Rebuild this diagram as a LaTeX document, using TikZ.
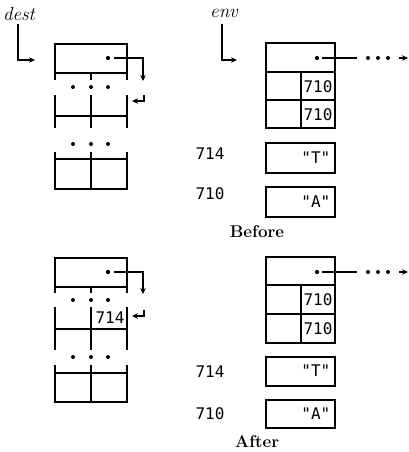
\documentclass[tikz,border=0pt]{standalone}
\usepackage{fontspec}
\newfontfamily\mono{DejaVu Sans Mono}
\usetikzlibrary{arrows.meta}
\begin{document}
\begin{tikzpicture}[x=1pt,y=-1pt,line width=1.3pt,
  arr/.style={-{Stealth[length=6pt,width=5.5pt]}},
  num/.style={font=\mono\fontsize{16}{18}\selectfont,inner sep=0pt},
  dotn/.style={circle,fill,inner sep=0pt,minimum size=4.2pt},
  sdot/.style={circle,fill,inner sep=0pt,minimum size=4pt},
  lab/.style={font=\itshape\fontsize{19}{21}\selectfont,inner sep=0pt},
  captext/.style={font=\bfseries\fontsize{17}{19}\selectfont,inner sep=0pt}]
\useasboundingbox (0,0) rectangle (409,452);

% ---------- dest, before ----------
\node[lab] (dest) at (19,14) {dest};
\coordinate (d1in) at (35,60);
\draw[arr] (18,24) |- (d1in);
\draw (55,44) rectangle (127,73);
\draw (55,73)--(55,80) (91,73)--(91,80) (127,73)--(127,80);
\foreach \x/\n in {73/a,91/b,108/c} \node[sdot] (d1u\n) at (\x,87) {};
\draw (55,95)--(55,128) (91,95)--(91,128) (127,95)--(127,128) (55,116)--(127,116);
\foreach \x/\n in {73/a,91/b,108/c} \node[sdot] (d1v\n) at (\x,144) {};
\draw (55,152)--(55,189)--(127,189)--(127,152) (91,152)--(91,189) (55,159)--(127,159);
\node[dotn] (p1) at (108,58) {};
\coordinate (p1e) at (143,81);
\draw[arr] (p1.east) ++(3,0) -| (p1e);
\coordinate (r1s) at (144,95);
\coordinate (r1e) at (132,101);
\draw[arr] (r1s) |- (r1e);

% ---------- env, before ----------
\node[lab] (env) at (224,13) {env};
\coordinate (e1in) at (237,60);
\draw[arr] (222,24) |- (e1in);
\draw (266,43) rectangle (335,128);
\draw (266,72)--(335,72) (266,100)--(335,100) (301,72)--(301,128);
\node[num] (e1a) at (318,87) {710};
\node[num] (e1b) at (318,115) {710};
\node[dotn] (q1) at (317,58) {};
\coordinate (q1e) at (357,58);
\draw (q1.east) ++(2,0) -- (q1e);
\foreach \x/\n in {368/a,378/b,388/c} \node[sdot] (q1d\n) at (\x,58) {};
\coordinate (q1s) at (399,58);
\coordinate (q1t) at (408,58);
\draw[-{Stealth[length=6pt,width=5.5pt]}] (q1s) -- (q1t);
\node[num] (l714a) at (210,154) {714};
\draw (266,143) rectangle (335,173);
\node[num,anchor=east] (ta) at (331,158) {"T"};
\node[num] (l710a) at (210,194) {710};
\draw (266,187) rectangle (335,217);
\node[num,anchor=east] (aa) at (331,202) {"A"};
\node[captext] (before) at (257,232) {Before};

% ---------- dest, after ----------
\draw (55,258) rectangle (127,287);
\draw (55,287)--(55,293) (91,287)--(91,293) (127,287)--(127,293);
\foreach \x/\n in {73/a,91/b,108/c} \node[sdot] (d2u\n) at (\x,300) {};
\draw (55,307)--(55,350) (91,307)--(91,350) (127,307)--(127,350) (55,329)--(127,329);
\node[num] (n714) at (110,318) {714};
\foreach \x/\n in {73/a,91/b,108/c} \node[sdot] (d2v\n) at (\x,357) {};
\draw (55,365)--(55,402)--(127,402)--(127,365) (91,365)--(91,402) (55,373)--(127,373);
\node[dotn] (p2) at (108,272) {};
\coordinate (p2e) at (143,294);
\draw[arr] (p2.east) ++(3,0) -| (p2e);
\coordinate (r2s) at (144,310);
\coordinate (r2e) at (132,316);
\draw[arr] (r2s) |- (r2e);

% ---------- env, after ----------
\draw (266,257) rectangle (335,343);
\draw (266,285)--(335,285) (266,314)--(335,314) (301,285)--(301,343);
\node[num] (e2a) at (318,300) {710};
\node[num] (e2b) at (318,329) {710};
\node[dotn] (q2) at (317,272) {};
\coordinate (q2e) at (357,272);
\draw (q2.east) ++(2,0) -- (q2e);
\foreach \x/\n in {368/a,378/b,388/c} \node[sdot] (q2d\n) at (\x,272) {};
\coordinate (q2s) at (399,272);
\coordinate (q2t) at (408,272);
\draw[-{Stealth[length=6pt,width=5.5pt]}] (q2s) -- (q2t);
\node[num] (l714b) at (210,372) {714};
\draw (266,357) rectangle (335,386);
\node[num,anchor=east] (tb) at (331,371) {"T"};
\node[num] (l710b) at (210,414) {710};
\draw (266,400) rectangle (335,428);
\node[num,anchor=east] (ab) at (331,414) {"A"};
\node[captext] (after) at (257,442) {After};
\end{tikzpicture}
\end{document}
